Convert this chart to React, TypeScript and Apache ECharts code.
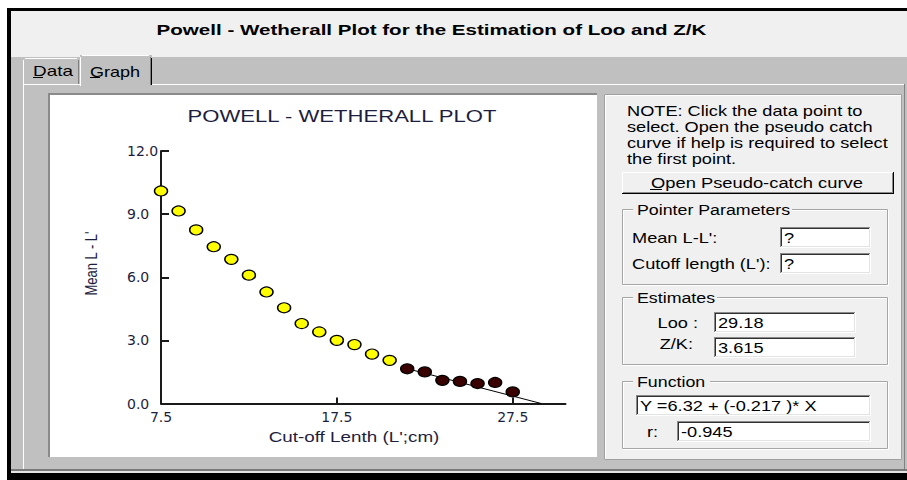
import React, { useEffect, useRef } from "react";
import * as echarts from "echarts";

// ---------- data ----------
const cutoffLengths = [7.5, 8.5, 9.5, 10.5, 11.5, 12.5, 13.5, 14.5, 15.5, 16.5, 17.5, 18.5, 19.5, 20.5, 21.5, 22.5, 23.5, 24.5, 25.5, 26.5, 27.5];
const meanLMinusLc = [10.1, 9.15, 8.25, 7.45, 6.85, 6.1, 5.3, 4.55, 3.8, 3.4, 3.0, 2.8, 2.35, 2.05, 1.65, 1.5, 1.1, 1.05, 0.95, 1.0, 0.55];
const firstSelectedIndex = 14;
const fitLineX = [21.5, 29.12];
const fitLineY = [1.655, 0];
const xTickValues = [7.5, 17.5, 27.5];
const yTickValues = [0, 3, 6, 9, 12];

const windowTitle = "Powell - Wetherall Plot for the Estimation of Loo and Z/K";
const chartTitle = "POWELL - WETHERALL PLOT";
const xAxisName = "Cut-off Lenth (L';cm)";
const yAxisName = "Mean L - L'";
const tabLabels = ["Data", "Graph"];
const noteLines = [
  "NOTE: Click the data point to",
  "select. Open the pseudo catch",
  "curve if help is required to select",
  "the first point.",
];
const buttonLabel = "Open Pseudo-catch curve";
const groupTitles = ["Pointer Parameters", "Estimates", "Function"];
const pointerLabels = ["Mean L-L':", "Cutoff length (L'):"];
const pointerValues = ["?", "?"];
const estimateLabels = ["Loo :", "Z/K:"];
const estimateValues = ["29.18", "3.615"];
const functionText = "Y =6.32 + (-0.217 )* X";
const rLabel = "r:";
const rValue = "-0.945";

// ---------- drawing helpers ----------
const UI_FONT = "'Liberation Sans', Arial, sans-serif";

type TOpts = {
  size?: number;
  weight?: string | number;
  color?: string;
  align?: string;
  sx?: number;
  sy?: number;
  z?: number;
  rotation?: number;
};

function txt(text: string, x: number, y: number, o: TOpts = {}) {
  const align = o.align ?? "left";
  return {
    type: "text",
    x,
    y,
    z: o.z ?? 6,
    silent: true,
    scaleX: o.sx ?? 1.3,
    scaleY: o.sy ?? 1,
    rotation: o.rotation ?? 0,
    style: {
      text,
      fontSize: o.size ?? 14,
      fontFamily: UI_FONT,
      fontWeight: o.weight ?? "normal",
      fill: o.color ?? "#000000",
      textAlign: align,
      textVerticalAlign: "middle",
      align,
      verticalAlign: "middle",
    },
  };
}

function rect(x: number, y: number, w: number, h: number, fill: string | null, z = 1, stroke: string | null = null) {
  return {
    type: "rect",
    silent: true,
    z,
    shape: { x, y, width: w, height: h },
    style: { fill: fill ?? "none", stroke: stroke ?? "none", lineWidth: stroke ? 1 : 0 },
  };
}

function hline(x1: number, x2: number, y: number, color: string, z = 3, w = 1) {
  return { type: "line", silent: true, z, shape: { x1, y1: y, x2, y2: y }, style: { stroke: color, lineWidth: w } };
}

function vline(x: number, y1: number, y2: number, color: string, z = 3, w = 1) {
  return { type: "line", silent: true, z, shape: { x1: x, y1, x2: x, y2 }, style: { stroke: color, lineWidth: w } };
}

function inputBox(x: number, y: number, w: number, h: number, value: string) {
  return [
    rect(x, y, w, h, "#ffffff", 2),
    hline(x, x + w, y + 0.5, "#8a8a8a"),
    vline(x + 0.5, y, y + h, "#8a8a8a"),
    hline(x + 1, x + w - 1, y + 1.5, "#303030"),
    vline(x + 1.5, y + 1, y + h - 1, "#303030"),
    hline(x, x + w, y + h - 0.5, "#ffffff"),
    vline(x + w - 0.5, y, y + h, "#ffffff"),
    hline(x + 1, x + w - 1, y + h - 1.5, "#e3e3e3"),
    vline(x + w - 1.5, y + 1, y + h - 1, "#e3e3e3"),
    txt(value, x + 4, y + h / 2 + 0.5, {}),
  ];
}

function groupBox(x: number, y: number, w: number, h: number, title: string, titleW: number) {
  return [
    rect(x + 1.5, y + 1.5, w, h, null, 2, "#ffffff"),
    rect(x + 0.5, y + 0.5, w, h, null, 2, "#a6a6a6"),
    rect(x + 11, y - 6, titleW + 7, 14, "#f0f0f0", 3),
    txt(title, x + 15, y + 1, { sx: 1.27 }),
  ];
}

function buildGraphics() {
  const els: any[] = [];
  // window frame
  els.push(rect(7, 8, 920, 480, "#000000", 0));
  els.push(rect(11, 11, 910, 46, "#f0f0f0", 1));
  els.push(rect(11, 57, 910, 412, "#c0c0c0", 1));
  els.push(rect(11, 469, 910, 2, "#7a7a7a", 1));
  els.push(rect(11, 471, 910, 2, "#e4e4e4", 1));
  els.push(txt(windowTitle, 431.5, 30, { size: 15, weight: "bold", align: "center", sx: 1.37 }));

  // tab page borders
  els.push(hline(23, 905, 84.5, "#ffffff", 2));
  els.push(vline(23.5, 84, 469, "#ffffff", 2));
  els.push(vline(904.5, 84, 469, "#808080", 2));

  // Data tab (unselected)
  els.push(rect(23, 58, 56, 26, "#c0c0c0", 2));
  els.push(vline(23.5, 60, 84, "#ffffff"));
  els.push(hline(25, 77, 58.5, "#ffffff"));
  els.push(vline(78.5, 60, 84, "#808080"));
  els.push(txt(tabLabels[0], 33, 71.5, { sx: 1.35 }));
  els.push(hline(33, 43, 77.5, "#000000", 4));

  // Graph tab (selected)
  els.push(rect(80, 55, 72, 31, "#c0c0c0", 3));
  els.push(vline(80.5, 57, 86, "#ffffff", 4));
  els.push(hline(82, 149, 55.5, "#ffffff", 4));
  els.push(vline(150.5, 57, 85, "#808080", 4));
  els.push(vline(151.5, 58, 85, "#000000", 4));
  els.push(txt(tabLabels[1], 90, 71.5, { sx: 1.29 }));
  els.push(hline(90, 100, 77.5, "#000000", 7));

  // chart panel (sunken white)
  els.push(rect(48, 93, 549, 364, "#8a8a8a", 2));
  els.push(rect(50, 95, 547, 362, "#ffffff", 3));
  els.push(txt(chartTitle, 342, 116, { size: 17, sx: 1.3, align: "center", color: "#1e1e3e" }));
  els.push(txt(xAxisName, 354, 437.5, { size: 14.5, sx: 1.3, align: "center", color: "#1e1e3e" }));
  els.push(txt(yAxisName, 90.5, 263.5, { size: 13, sx: 1, sy: 1.3, align: "center", rotation: Math.PI / 2, color: "#1e1e3e" }));

  // right panel
  els.push(rect(604, 94, 298, 366, "#f0f0f0", 2));
  els.push(rect(604.5, 94.5, 297, 365, null, 3, "#a0a0a0"));
  els.push(hline(605.5, 901, 95.5, "#ffffff"));
  els.push(vline(605.5, 95, 459, "#ffffff"));

  noteLines.forEach((line, i) => {
    els.push(txt(line, 627, 110.7 + i * 15.9, {}));
  });

  // button
  els.push(rect(622, 172, 272, 22, "#f0f0f0", 3));
  els.push(hline(622, 893, 172.5, "#ffffff", 4));
  els.push(vline(622.5, 172, 193, "#ffffff", 4));
  els.push(hline(622, 894, 193.5, "#000000", 4));
  els.push(vline(893.5, 172, 194, "#000000", 4));
  els.push(hline(623, 893, 192.5, "#8a8a8a", 4));
  els.push(vline(892.5, 173, 193, "#8a8a8a", 4));
  els.push(txt(buttonLabel, 757, 183, { align: "center", sx: 1.31 }));
  els.push(hline(650, 662, 189.5, "#000000", 7));

  // group boxes
  els.push(...groupBox(622, 209, 265, 75, groupTitles[0], 152));
  els.push(...groupBox(622, 297, 265, 67, groupTitles[1], 77));
  els.push(...groupBox(622, 381, 265, 67, groupTitles[2], 70));

  // pointer parameters
  els.push(txt(pointerLabels[0], 632, 238, {}));
  els.push(...inputBox(780, 227, 91, 21, pointerValues[0]));
  els.push(txt(pointerLabels[1], 632, 263.5, {}));
  els.push(...inputBox(780, 253, 91, 21, pointerValues[1]));

  // estimates
  els.push(txt(estimateLabels[0], 698, 322.5, { align: "right" }));
  els.push(...inputBox(714, 312, 142, 21, estimateValues[0]));
  els.push(txt(estimateLabels[1], 693, 344, { align: "right" }));
  els.push(...inputBox(714, 337, 142, 21, estimateValues[1]));

  // function
  els.push(...inputBox(636, 395, 235, 21, functionText));
  els.push(txt(rLabel, 647, 432, {}));
  els.push(...inputBox(677, 421, 194, 21, rValue));

  return els;
}

export default function App() {
  const ref = useRef<HTMLDivElement>(null);

  useEffect(() => {
    if (!ref.current) return;
    const chart = echarts.init(ref.current, null, { renderer: "svg" });

    const openPoints = cutoffLengths
      .slice(0, firstSelectedIndex)
      .map((x, i) => [x, meanLMinusLc[i]]);
    const selectedPoints = cutoffLengths
      .slice(firstSelectedIndex)
      .map((x, i) => [x, meanLMinusLc[i + firstSelectedIndex]]);
    const fitLine = fitLineX.map((x, i) => [x, fitLineY[i]]);

    const labelColor = "#1e1e3e";

    chart.setOption({
      animation: false,
      backgroundColor: "#ffffff",
      graphic: { elements: buildGraphics() },
      grid: { left: 161, top: 151, width: 404.5, height: 252.5, containLabel: false },
      xAxis: {
        type: "value",
        min: 7.5,
        max: 30.5,
        interval: 10,
        z: 10,
        axisLine: { show: true, onZero: false, lineStyle: { color: "#1a1a1a", width: 2 } },
        axisTick: { show: true, inside: true, length: 6, customValues: xTickValues.slice(1), lineStyle: { color: "#1a1a1a", width: 2 } },
        axisLabel: {
          customValues: xTickValues,
          formatter: (v: number) => v.toFixed(1),
          fontSize: 14,
          fontFamily: "'DejaVu Sans', sans-serif",
          color: labelColor,
          margin: 6,
        },
        splitLine: { show: false },
      },
      yAxis: {
        type: "value",
        min: 0,
        max: 12,
        interval: 3,
        z: 10,
        axisLine: { show: true, onZero: false, lineStyle: { color: "#1a1a1a", width: 2 } },
        axisTick: { show: true, inside: true, length: 8, customValues: yTickValues, lineStyle: { color: "#1a1a1a", width: 2 } },
        axisLabel: {
          customValues: yTickValues,
          formatter: (v: number) => v.toFixed(1),
          fontSize: 14,
          fontFamily: "'DejaVu Sans', sans-serif",
          color: labelColor,
          align: "left",
          margin: 34,
          padding: [0, 0, 9, 0],
        },
        splitLine: { show: false },
      },
      series: [
        {
          type: "line",
          data: fitLine,
          symbol: "none",
          z: 12,
          lineStyle: { color: "#000000", width: 1 },
        },
        {
          type: "scatter",
          data: openPoints,
          symbol: "circle",
          symbolSize: [13, 10],
          z: 14,
          itemStyle: { color: "#ffff00", borderColor: "#000000", borderWidth: 1.3, opacity: 1 },
        },
        {
          type: "scatter",
          data: selectedPoints,
          symbol: "circle",
          symbolSize: [13, 10],
          z: 14,
          itemStyle: { color: "#3a0000", borderColor: "#000000", borderWidth: 1.3, opacity: 1 },
        },
      ],
    });

    return () => chart.dispose();
  }, []);

  return (
    <div
      ref={ref}
      style={{ position: "fixed", left: 0, top: 0, width: 907, height: 480 }}
    />
  );
}
